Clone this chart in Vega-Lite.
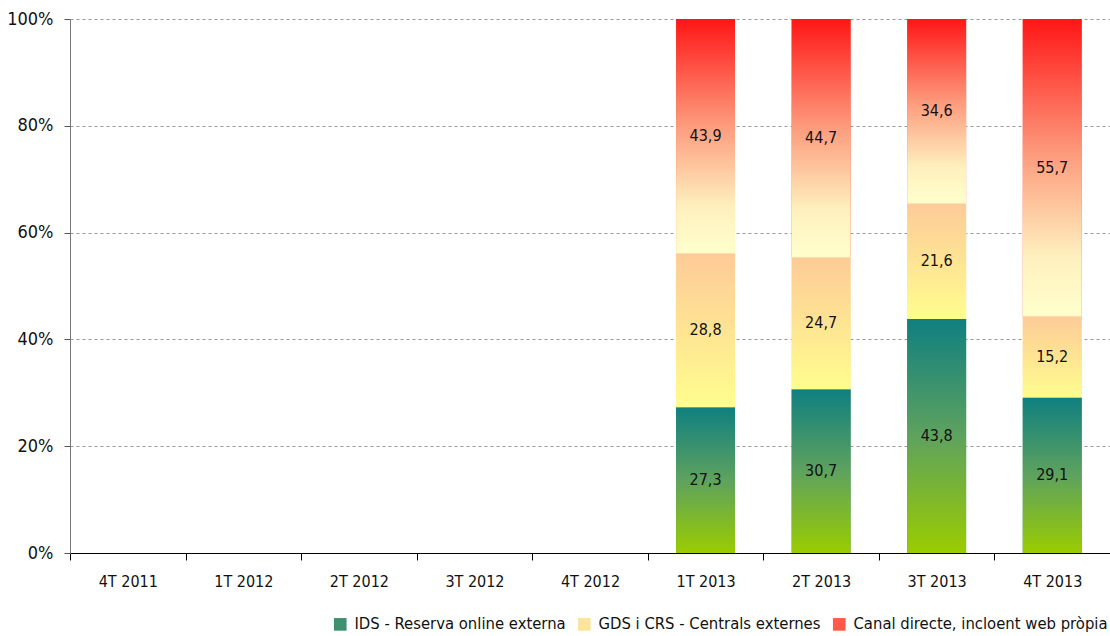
{
  "$schema": "https://vega.github.io/schema/vega-lite/v6.json",
  "width": 1040,
  "height": 534,
  "autosize": "none",
  "padding": {"left": 70, "top": 19, "right": 0, "bottom": 83},
  "background": "white",
  "config": {
    "view": {"stroke": null},
    "font": "DejaVu Sans Condensed, sans-serif",
    "locale": {
      "number": {"decimal": ",", "thousands": ".", "grouping": [3], "currency": ["", " €"]}
    }
  },
  "data": {
    "values": [
      {"quarter": "1T 2013", "series": "IDS - Reserva online externa", "value": 27.3},
      {"quarter": "1T 2013", "series": "GDS i CRS - Centrals externes", "value": 28.8},
      {"quarter": "1T 2013", "series": "Canal directe, incloent web pròpia", "value": 43.9},
      {"quarter": "2T 2013", "series": "IDS - Reserva online externa", "value": 30.7},
      {"quarter": "2T 2013", "series": "GDS i CRS - Centrals externes", "value": 24.7},
      {"quarter": "2T 2013", "series": "Canal directe, incloent web pròpia", "value": 44.7},
      {"quarter": "3T 2013", "series": "IDS - Reserva online externa", "value": 43.8},
      {"quarter": "3T 2013", "series": "GDS i CRS - Centrals externes", "value": 21.6},
      {"quarter": "3T 2013", "series": "Canal directe, incloent web pròpia", "value": 34.6},
      {"quarter": "4T 2013", "series": "IDS - Reserva online externa", "value": 29.1},
      {"quarter": "4T 2013", "series": "GDS i CRS - Centrals externes", "value": 15.2},
      {"quarter": "4T 2013", "series": "Canal directe, incloent web pròpia", "value": 55.7}
    ]
  },
  "encoding": {
    "x": {
      "field": "quarter",
      "type": "nominal",
      "title": null,
      "scale": {
        "domain": ["4T 2011", "1T 2012", "2T 2012", "3T 2012", "4T 2012", "1T 2013", "2T 2013", "3T 2013", "4T 2013"],
        "paddingInner": 0,
        "paddingOuter": 0
      },
      "axis": {
        "labelAngle": 0,
        "labelFontSize": 16,
        "labelColor": "#111111",
        "labelPadding": 13,
        "tickBand": "extent",
        "tickSize": 7,
        "tickColor": "#000000",
        "domainColor": "#000000",
        "grid": false
      }
    },
    "y": {
      "field": "value",
      "type": "quantitative",
      "stack": "normalize",
      "title": null,
      "scale": {"domain": [0, 1], "nice": false},
      "axis": {
        "values": [0, 0.2, 0.4, 0.6, 0.8, 1],
        "format": ".0%",
        "labelFontSize": 18,
        "labelColor": "#111111",
        "labelPadding": 11,
        "tickSize": 6,
        "tickColor": "#555555",
        "domainColor": "#777777",
        "gridDash": [3, 3],
        "gridColor": "#999999"
      }
    },
    "order": {"field": "series", "sort": "descending"}
  },
  "layer": [
    {
      "mark": {"type": "bar", "width": {"band": 0.51}},
      "encoding": {
        "color": {
          "field": "series",
          "type": "nominal",
          "scale": {
            "domain": ["IDS - Reserva online externa", "GDS i CRS - Centrals externes", "Canal directe, incloent web pròpia"],
            "range": ["#3f9070", "#fde49a", "#ff5a45"]
          },
          "legend": {
            "title": null,
            "orient": "none",
            "direction": "horizontal",
            "legendX": 262,
            "legendY": 597,
            "symbolType": "square",
            "symbolSize": 160,
            "symbolStrokeWidth": 0,
            "labelFontSize": 16.5,
            "labelColor": "#111111",
            "labelOffset": 6,
            "labelLimit": 400,
            "columnPadding": 10
          }
        }
      }
    },
    {
      "mark": {"type": "bar", "width": {"band": 0.51}},
      "encoding": {
        "color": {
          "condition": [
            {
              "test": "datum.series === 'IDS - Reserva online externa'",
              "value": {"gradient": "linear", "x1": 0, "y1": 0, "x2": 0, "y2": 1, "stops": [
                {"offset": 0, "color": "#0f7f80"},
                {"offset": 0.5, "color": "#5ea25e"},
                {"offset": 1, "color": "#9acc00"}
              ]}
            },
            {
              "test": "datum.series === 'GDS i CRS - Centrals externes'",
              "value": {"gradient": "linear", "x1": 0, "y1": 0, "x2": 0, "y2": 1, "stops": [
                {"offset": 0, "color": "#fdcb98"},
                {"offset": 1, "color": "#fffd8e"}
              ]}
            }
          ],
          "value": {"gradient": "linear", "x1": 0, "y1": 0, "x2": 0, "y2": 1, "stops": [
            {"offset": 0, "color": "#ff1616"},
            {"offset": 0.45, "color": "#fd9a7c"},
            {"offset": 0.8, "color": "#fef0be"},
            {"offset": 1, "color": "#ffffcc"}
          ]}
        }
      }
    },
    {
      "mark": {"type": "text", "fontSize": 16, "color": "#111111", "baseline": "middle"},
      "encoding": {
        "y": {"field": "value", "type": "quantitative", "stack": "normalize", "bandPosition": 0.5},
        "text": {"field": "value", "type": "quantitative", "format": ".1f"}
      }
    }
  ]
}
